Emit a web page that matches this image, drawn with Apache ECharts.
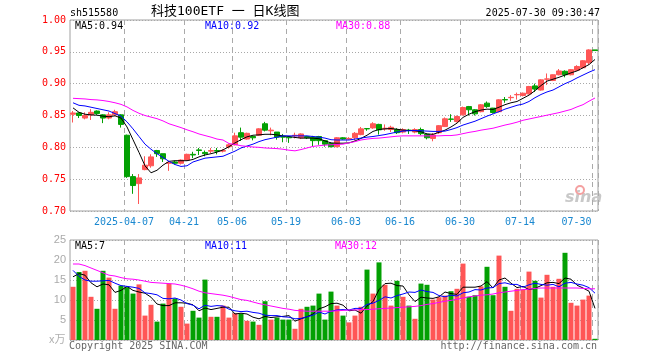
<!DOCTYPE html>
<html><head><meta charset="utf-8">
<script src="https://cdn.jsdelivr.net/npm/echarts@6/dist/echarts.min.js"></script>
<style>html,body{margin:0;padding:0;background:#fff}#c{width:660px;height:360px}</style>
</head><body><div id="c"></div>
<script>
// ---------- DATA ----------
const dates = [
'2025-03-24','2025-03-25','2025-03-26','2025-03-27','2025-03-28','2025-03-31','2025-04-01','2025-04-02','2025-04-03',
'2025-04-07','2025-04-08','2025-04-09','2025-04-10','2025-04-11','2025-04-14','2025-04-15','2025-04-16','2025-04-17','2025-04-18',
'2025-04-21','2025-04-22','2025-04-23','2025-04-24','2025-04-25','2025-04-28','2025-04-29','2025-04-30',
'2025-05-06','2025-05-07','2025-05-08','2025-05-09','2025-05-12','2025-05-13','2025-05-14','2025-05-15','2025-05-16',
'2025-05-19','2025-05-20','2025-05-21','2025-05-22','2025-05-23','2025-05-26','2025-05-27','2025-05-28','2025-05-29','2025-05-30',
'2025-06-03','2025-06-04','2025-06-05','2025-06-06','2025-06-09','2025-06-10','2025-06-11','2025-06-12','2025-06-13',
'2025-06-16','2025-06-17','2025-06-18','2025-06-19','2025-06-20','2025-06-23','2025-06-24','2025-06-25','2025-06-26','2025-06-27',
'2025-06-30','2025-07-01','2025-07-02','2025-07-03','2025-07-04','2025-07-07','2025-07-08','2025-07-09','2025-07-10','2025-07-11',
'2025-07-14','2025-07-15','2025-07-16','2025-07-17','2025-07-18','2025-07-21','2025-07-22','2025-07-23','2025-07-24','2025-07-25',
'2025-07-28','2025-07-29','2025-07-30'];
const tickDates = ['2025-04-07','2025-04-21','2025-05-06','2025-05-19','2025-06-03','2025-06-16','2025-06-30','2025-07-14','2025-07-30'];
const tickLabels = ['2025-04-07','04-21','05-06','05-19','06-03','06-16','06-30','07-14','07-30'];

const opens = [0.852,0.854,0.846,0.851,0.857,0.851,0.846,0.851,0.851,
0.819,0.754,0.743,0.765,0.771,0.795,0.790,0.775,0.777,0.775,
0.780,0.789,0.796,0.792,0.794,0.795,0.794,0.801,
0.804,0.823,0.813,0.817,0.819,0.837,0.826,0.824,0.817,
0.816,0.818,0.815,0.817,0.816,0.817,0.8105,0.806,0.801,0.815,
0.813,0.815,0.820,0.8295,0.8305,0.836,0.829,0.828,0.828,
0.824,0.827,0.824,0.828,0.8205,0.814,0.823,0.8326,0.8445,0.8405,
0.851,0.864,0.859,0.856,0.8694,0.8616,0.856,0.875,0.878,0.8825,
0.8815,0.884,0.8965,0.890,0.907,0.905,0.914,0.9195,0.914,0.921,
0.925,0.933,0.953];
const closes = [0.854,0.850,0.850,0.855,0.853,0.846,0.851,0.856,0.836,
0.754,0.740,0.752,0.772,0.785,0.790,0.782,0.776,0.775,0.780,
0.789,0.788,0.795,0.790,0.795,0.794,0.795,0.804,
0.818,0.816,0.822,0.815,0.829,0.827,0.827,0.816,0.816,
0.815,0.819,0.821,0.815,0.8105,0.8105,0.805,0.801,0.815,0.813,
0.814,0.822,0.829,0.829,0.837,0.8275,0.830,0.8315,0.823,
0.828,0.8265,0.828,0.8215,0.815,0.8195,0.834,0.8448,0.8440,0.8484,
0.8625,0.859,0.8526,0.8668,0.864,0.8547,0.8746,0.8745,0.8785,0.883,
0.885,0.8955,0.8915,0.906,0.9075,0.914,0.920,0.914,0.922,0.927,
0.936,0.953,0.952];
const lows = [0.839,0.846,0.844,0.843,0.851,0.838,0.844,0.849,0.831,
0.752,0.727,0.711,0.764,0.768,0.785,0.777,0.763,0.773,0.773,
0.779,0.783,0.788,0.786,0.791,0.789,0.792,0.798,
0.803,0.810,0.812,0.811,0.818,0.825,0.819,0.812,0.808,
0.807,0.814,0.813,0.813,0.802,0.804,0.801,0.800,0.800,0.812,
0.812,0.811,0.819,0.826,0.829,0.820,0.826,0.824,0.821,
0.822,0.821,0.822,0.819,0.8125,0.8095,0.821,0.832,0.840,0.839,
0.850,0.850,0.850,0.855,0.862,0.853,0.855,0.870,0.873,0.875,
0.880,0.883,0.887,0.889,0.898,0.904,0.913,0.910,0.913,0.920,
0.924,0.930,0.952];
const highs = [0.857,0.855,0.855,0.860,0.858,0.852,0.855,0.859,0.852,
0.820,0.758,0.758,0.786,0.789,0.796,0.790,0.777,0.779,0.781,
0.790,0.793,0.799,0.795,0.799,0.799,0.797,0.806,
0.823,0.831,0.823,0.818,0.830,0.840,0.831,0.824,0.821,
0.816,0.823,0.822,0.818,0.818,0.818,0.811,0.808,0.816,0.816,
0.816,0.824,0.832,0.830,0.8395,0.837,0.836,0.834,0.830,
0.830,0.829,0.830,0.831,0.822,0.8225,0.835,0.847,0.852,0.850,
0.864,0.865,0.860,0.868,0.872,0.862,0.8755,0.879,0.882,0.886,
0.886,0.8965,0.900,0.907,0.916,0.9145,0.923,0.921,0.923,0.929,
0.937,0.954,0.953];
const ma5 = [0.862,0.855,0.852,0.851,0.8505,0.849,0.848,0.8495,0.846,
0.832,0.812,0.792,0.771,0.760,0.764,0.772,0.778,0.779,0.779,
0.779,0.781,0.785,0.788,0.790,0.7925,0.796,0.801,
0.807,0.812,0.8165,0.819,0.8196,0.8205,0.8205,0.8195,0.818,
0.817,0.8155,0.8145,0.8145,0.8145,0.8135,0.810,0.807,0.8065,0.8065,
0.807,0.810,0.814,0.819,0.825,0.828,0.829,0.8295,0.8285,
0.827,0.8265,0.826,0.8245,0.821,0.8205,0.8235,0.827,0.832,0.838,
0.847,0.852,0.856,0.8585,0.860,0.8595,0.863,0.867,0.870,0.872,
0.877,0.882,0.889,0.897,0.904,0.907,0.910,0.9135,0.917,0.920,
0.925,0.930,0.938];
const ma10 = [0.870,0.866,0.865,0.863,0.861,0.859,0.857,0.853,0.849,
0.840,0.829,0.817,0.805,0.797,0.790,0.784,0.778,0.773,0.770,
0.771,0.777,0.780,0.783,0.784,0.785,0.786,0.790,
0.794,0.799,0.802,0.805,0.809,0.812,0.814,0.816,0.818,
0.818,0.818,0.818,0.818,0.817,0.816,0.8145,0.812,0.8115,0.8115,
0.8115,0.813,0.8145,0.816,0.817,0.8185,0.820,0.822,0.824,
0.8255,0.826,0.8265,0.826,0.8255,0.825,0.825,0.8255,0.828,0.831,
0.835,0.838,0.841,0.845,0.849,0.8525,0.856,0.860,0.863,0.866,
0.868,0.872,0.878,0.883,0.887,0.890,0.895,0.900,0.904,0.909,
0.9135,0.918,0.922];
const ma30 = [0.877,0.8765,0.876,0.875,0.8745,0.8735,0.872,0.870,0.8675,
0.8635,0.858,0.8535,0.850,0.8475,0.845,0.8415,0.837,0.834,0.831,
0.8275,0.8245,0.821,0.8185,0.816,0.813,0.8115,0.806,
0.8045,0.8025,0.8015,0.8005,0.800,0.799,0.7985,0.798,0.797,
0.7955,0.7945,0.7965,0.799,0.8015,0.8025,0.8035,0.804,0.8045,0.805,
0.807,0.809,0.8115,0.813,0.814,0.8145,0.8155,0.8165,0.8175,
0.818,0.818,0.818,0.818,0.818,0.818,0.818,0.8185,0.8185,0.8195,
0.8215,0.8235,0.825,0.827,0.8285,0.830,0.8325,0.835,0.837,0.8395,
0.8425,0.8445,0.8465,0.8485,0.8505,0.8525,0.8545,0.857,0.8595,0.8635,
0.867,0.8725,0.8775];
const volumes = [13.3,17.0,17.3,10.8,7.8,17.3,15.6,7.8,13.6,
13.2,11.6,13.9,6.1,8.8,4.6,9.1,14.1,10.4,8.3,
4.1,7.3,5.6,15.1,5.8,5.8,8.6,5.6,
6.7,6.6,4.8,4.6,3.8,9.7,5.1,5.6,5.1,
5.1,2.8,7.8,8.3,8.6,11.6,5.1,12.1,8.6,6.1,
4.4,6.1,8.3,17.6,11.6,19.4,13.8,8.6,14.8,
10.8,8.6,5.3,14.1,13.8,10.1,10.7,11.1,12.2,12.8,
19.1,10.8,11.2,13.4,18.3,11.2,21.1,13.3,7.3,12.8,
12.6,17.1,14.8,10.6,16.3,13.3,15.3,21.8,9.3,8.6,
10.1,11.1,0.3];
const vma5 = [15.8,16.6,16.2,14.3,13.3,14.0,13.8,11.9,12.4,
13.4,12.4,12.0,11.7,10.7,9.0,8.6,8.6,9.3,9.3,
9.2,8.8,7.3,8.0,7.6,7.9,8.2,8.2,
6.5,6.7,6.5,5.7,5.3,5.9,5.6,5.8,5.9,
6.1,4.7,5.3,5.8,6.5,7.8,8.3,9.1,9.2,8.7,
7.3,7.5,6.7,8.5,9.6,12.6,14.1,14.2,13.6,
13.5,11.3,9.6,10.7,10.5,10.4,10.8,12.0,11.6,11.4,
13.2,13.2,13.2,13.5,14.6,13.0,15.0,15.5,14.2,13.1,
13.4,12.6,12.9,13.6,14.3,14.4,14.1,15.5,15.2,13.7,
13.0,12.2,7.9];
const vma10 = [17.4,15.9,15.0,14.7,14.7,14.8,14.9,14.2,13.6,
13.4,13.2,12.9,11.8,11.6,11.3,10.4,10.3,10.5,10.0,
9.1,8.7,7.8,8.7,8.4,8.6,8.5,7.7,
7.3,7.1,7.2,6.9,6.7,6.2,6.1,6.1,5.8,
5.7,5.3,5.4,5.8,6.2,7.0,6.5,7.2,7.5,7.6,
7.5,7.9,7.9,8.9,9.2,9.9,10.8,10.5,11.1,
11.5,12.0,11.9,12.5,12.1,11.9,11.1,10.8,11.2,11.0,
11.8,12.0,12.6,12.5,13.0,13.1,14.1,14.3,13.9,13.9,
13.2,13.8,14.2,13.9,13.7,13.9,13.3,14.2,14.4,14.0,
13.7,13.1,11.7];
const vma30 = [19.0,19.0,18.6,18.0,17.4,16.8,16.2,16.0,15.6,
15.3,15.2,15.0,14.7,14.4,14.3,14.2,14.1,14.0,13.7,
13.3,12.8,12.2,11.8,11.6,11.4,11.2,10.9,
10.5,10.1,9.9,9.5,9.1,8.8,8.5,8.2,7.9,
7.7,7.4,7.3,7.2,7.2,7.2,7.2,7.2,7.3,7.4,
7.5,7.5,7.6,7.6,7.7,7.8,7.9,8.0,8.1,
8.2,8.3,8.4,8.6,8.9,9.1,9.4,9.7,9.9,10.2,
10.5,10.8,11.0,11.2,11.3,11.5,11.8,12.0,12.2,12.4,
12.6,12.7,12.9,13.0,13.0,13.0,13.0,13.0,13.0,13.0,
12.9,12.8,12.8];
const priceTicks = [0.70,0.75,0.80,0.85,0.90,0.95,1.00];
const volTicks = [0,5,10,15,20,25];

// ---------- CHART ----------
const UP = '#ff5656', DOWN = '#03a003';
const mono = "'DejaVu Sans Mono', monospace";
const tickIdx = new Set(tickDates.map(d => dates.indexOf(d)));
const lastDate = dates[dates.length - 1];
const labelOf = {}; tickDates.forEach((d, k) => labelOf[d] = tickLabels[k]);

const kData = dates.map((d, i) => [opens[i], closes[i], lows[i], highs[i]]);
const vData = volumes.map((v, i) => ({
  value: v, itemStyle: { color: closes[i] >= opens[i] ? UP : DOWN }
}));

const chart = echarts.init(document.getElementById('c'), null, { renderer: 'canvas' });

function xAx(g, showLabel) {
  return {
    type: 'category', gridIndex: g, data: dates, boundaryGap: true,
    axisLine: { show: false }, axisTick: { show: false },
    axisLabel: showLabel ? {
      interval: (i) => tickIdx.has(i),
      formatter: (v) => v === lastDate ? '{r|' + labelOf[v] + '}' : (labelOf[v] || ''),
      rich: { r: { padding: [0, 31, 0, 0], color: '#1a88d0', fontFamily: mono, fontSize: 10 } },
      color: '#1a88d0', fontFamily: mono, fontSize: 10, margin: 6, padding: [0, 6, 0, 0]
    } : { show: false },
    splitLine: { show: true, interval: (i) => tickIdx.has(i),
      lineStyle: { color: '#aaaaaa', type: [5, 4], width: 1 } }
  };
}

const option = {
  animation: false,
  backgroundColor: '#fff',
  grid: [
    { left: 70, top: 20, width: 528, height: 191, show: true, borderColor: '#a0a0a0', borderWidth: 1, backgroundColor: 'transparent' },
    { left: 70, top: 240, width: 528, height: 100, show: true, borderColor: '#a0a0a0', borderWidth: 1, backgroundColor: 'transparent' }
  ],
  xAxis: [xAx(0, true), xAx(1, false)],
  yAxis: [
    { type: 'value', gridIndex: 0, min: priceTicks[0], max: priceTicks[priceTicks.length - 1], interval: 0.05,
      axisLine: { show: false }, axisTick: { show: false },
      axisLabel: { color: '#ff0000', fontFamily: mono, fontSize: 10, margin: 4, formatter: v => v.toFixed(2), showMinLabel: true, showMaxLabel: true },
      splitLine: { lineStyle: { color: '#a8a8a8', type: [1, 2] } } },
    { type: 'value', gridIndex: 1, min: volTicks[0], max: volTicks[volTicks.length - 1], interval: 5,
      axisLine: { show: false }, axisTick: { show: false },
      axisLabel: { color: '#aaaaaa', fontFamily: "'Liberation Sans', sans-serif", fontSize: 11, margin: 4, formatter: v => v === 0 ? '' : String(v) },
      splitLine: { lineStyle: { color: '#a8a8a8', type: [1, 2] } } }
  ],
  series: [
    { type: 'candlestick', xAxisIndex: 0, yAxisIndex: 0, data: kData, barWidth: 5,
      itemStyle: { color: UP, color0: DOWN, borderColor: UP, borderColor0: DOWN, borderWidth: 1 } },
    { type: 'line', xAxisIndex: 0, yAxisIndex: 0, data: ma5, symbol: 'none', lineStyle: { color: '#000', width: 1 } },
    { type: 'line', xAxisIndex: 0, yAxisIndex: 0, data: ma10, symbol: 'none', lineStyle: { color: '#0000ff', width: 1 } },
    { type: 'line', xAxisIndex: 0, yAxisIndex: 0, data: ma30, symbol: 'none', lineStyle: { color: '#ff00ff', width: 1 } },
    { type: 'bar', xAxisIndex: 1, yAxisIndex: 1, data: vData, barWidth: 5 },
    { type: 'line', xAxisIndex: 1, yAxisIndex: 1, data: vma5, symbol: 'none', lineStyle: { color: '#000', width: 1 } },
    { type: 'line', xAxisIndex: 1, yAxisIndex: 1, data: vma10, symbol: 'none', lineStyle: { color: '#0000ff', width: 1 } },
    { type: 'line', xAxisIndex: 1, yAxisIndex: 1, data: vma30, symbol: 'none', lineStyle: { color: '#ff00ff', width: 1 } }
  ],
  graphic: [
    { type: 'text', left: 70, top: 8, style: { text: 'sh515580', font: '10px ' + mono, fill: '#000' } },
    { type: 'text', left: 151, top: 5, style: { text: '科技100ETF 一 日K线图', font: "13px 'DejaVu Sans Mono','Noto Sans CJK SC'", fill: '#000' } },
    { type: 'text', right: 60, top: 8, style: { text: '2025-07-30 09:30:47', font: '10px ' + mono, fill: '#000' } },
    { type: 'text', left: 75, top: 21, style: { text: 'MA5:' + ma5[ma5.length - 1].toFixed(2), font: '10px ' + mono, fill: '#000' } },
    { type: 'text', left: 205, top: 21, style: { text: 'MA10:' + ma10[ma10.length - 1].toFixed(2), font: '10px ' + mono, fill: '#0000ff' } },
    { type: 'text', left: 336, top: 21, style: { text: 'MA30:' + ma30[ma30.length - 1].toFixed(2), font: '10px ' + mono, fill: '#ff00ff' } },
    { type: 'text', left: 75, top: 241, style: { text: 'MA5:' + Math.floor(vma5[vma5.length - 1]), font: '10px ' + mono, fill: '#000' } },
    { type: 'text', left: 205, top: 241, style: { text: 'MA10:' + Math.floor(vma10[vma10.length - 1]), font: '10px ' + mono, fill: '#0000ff' } },
    { type: 'text', left: 335, top: 241, style: { text: 'MA30:' + Math.floor(vma30[vma30.length - 1]), font: '10px ' + mono, fill: '#ff00ff' } },
    { type: 'text', left: 49, top: 333, style: { text: 'x万', font: "11px 'Noto Sans CJK SC'", fill: '#b0b0b0' } },
    { type: 'text', left: 69, top: 341, style: { text: 'Copyright 2025 SINA.COM', font: '10px ' + mono, fill: '#666' } },
    { type: 'text', right: 63, top: 341, style: { text: 'http://finance.sina.com.cn', font: '10px ' + mono, fill: '#666' } },
    { type: 'text', left: 565, top: 190, style: { text: 'sina', font: "italic bold 16px 'DejaVu Sans'", fill: '#c8c8c8' } },
    { type: 'circle', shape: { cx: 580, cy: 190, r: 4 }, style: { fill: 'none', stroke: '#f4a0a0', lineWidth: 2 } }
  ]
};
chart.setOption(option);
</script>
</body></html>
